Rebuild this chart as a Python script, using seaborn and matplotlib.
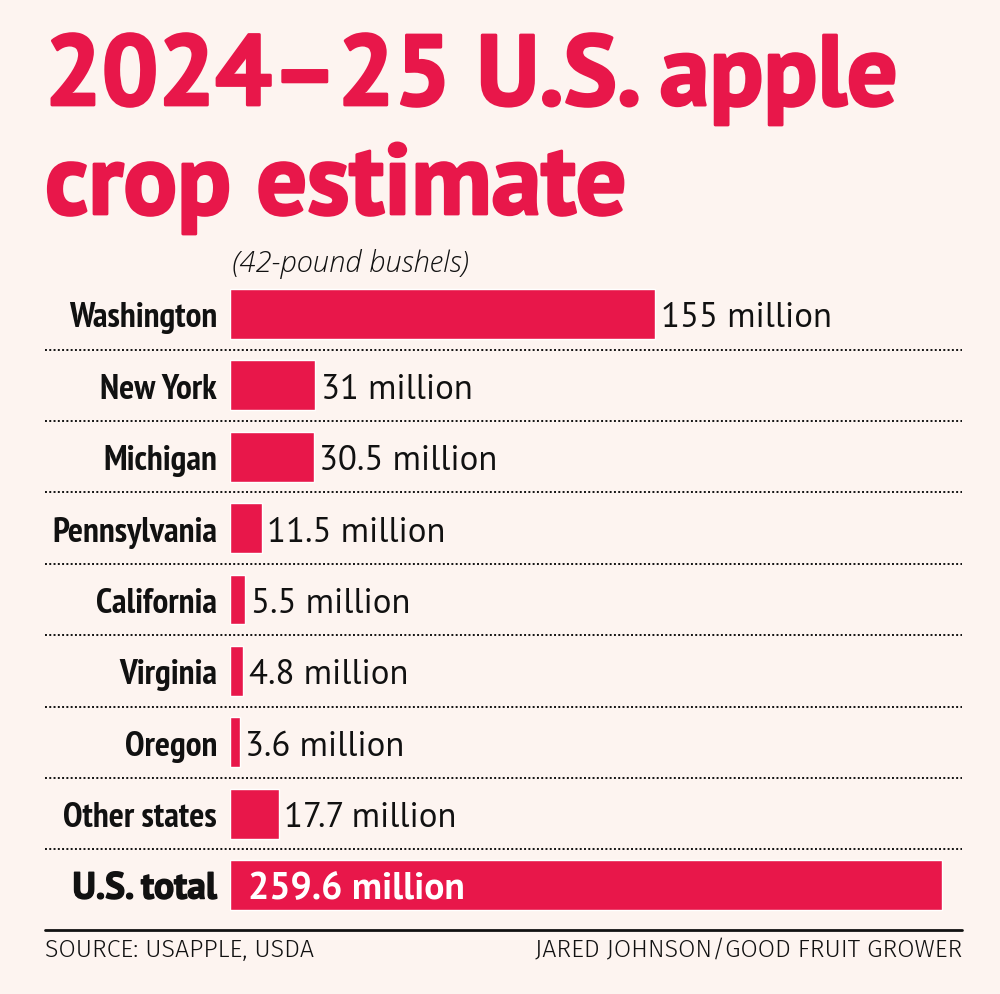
import os
import matplotlib
matplotlib.use("Agg")
import matplotlib.pyplot as plt
import matplotlib.patheffects as pe
import seaborn as sns
import pandas as pd
from matplotlib.lines import Line2D
from matplotlib import font_manager as fm

# ---- data ----
states = ["Washington", "New York", "Michigan", "Pennsylvania", "California",
          "Virginia", "Oregon", "Other states", "U.S. total"]
values = [155, 31, 30.5, 11.5, 5.5, 4.8, 3.6, 17.7, 259.6]
value_labels = ["155 million", "31 million", "30.5 million", "11.5 million",
                "5.5 million", "4.8 million", "3.6 million", "17.7 million",
                "259.6 million"]
title_lines = ["2024\u201325 U.S. apple", "crop estimate"]
unit_note = "(42-pound bushels)"
source = "SOURCE: USAPPLE, USDA"
credit = "JARED JOHNSON/GOOD FRUIT GROWER"

BG = "#FDF4F0"
RED = "#E8174A"
INK = "#111111"

sns.set_theme(style="white")
plt.rcParams["font.family"] = ["Open Sans", "DejaVu Sans"]

_paths = {os.path.basename(f.fname): f.fname for f in fm.fontManager.ttflist}


def font(fname, size, fallback_family="DejaVu Sans", **kw):
    p = _paths.get(fname)
    if p:
        return fm.FontProperties(fname=p, size=size)
    return fm.FontProperties(family=fallback_family, size=size, **kw)


F_TITLE = font("PT_Sans-Web-Bold.ttf", 72, weight="bold")
F_STATE = font("PT_Sans-Narrow-Web-Bold.ttf", 25.5, weight="bold")
F_TOTAL_LAB = font("PT_Sans-Web-Bold.ttf", 27, weight="bold")
F_TOTAL_VAL = font("PT_Sans-Web-Bold.ttf", 27, weight="bold")
F_VALUE = font("PT_Sans-Web-Regular.ttf", 25)
F_NOTE = font("OpenSans-LightItalic.ttf", 21, style="italic")
F_FOOT = font("FiraSans-Light.ttf", 18)

W, H = 1000, 995
fig = plt.figure(figsize=(10, 9.95), dpi=100, facecolor=BG)


def fx(px):
    return px / W


def fy(py):
    return 1 - py / H


row = 71.4
top = 315 - row / 2
bottom = 886 + row / 2
ax = fig.add_axes([fx(230), fy(bottom), fx(962) - fx(230), (bottom - top) / H])
ax.set_facecolor(BG)

df = pd.DataFrame({"state": states, "value": values})
sns.barplot(data=df, y="state", x="value", orient="h", color=RED,
            saturation=1, width=0.70, ax=ax)
ax.set_xlim(0, 732 / 2.742)
ax.set_ylim(len(states) - 0.5, -0.5)
for s in ax.spines.values():
    s.set_visible(False)
ax.set_xticks([])
ax.set_yticks([])
ax.set_xlabel("")
ax.set_ylabel("")

ytr = ax.get_yaxis_transform()
lab_x = (217 - 230) / 732
last = len(states) - 1
for i, st in enumerate(states):
    if i == last:
        ax.text(lab_x, i, st, transform=ytr, ha="right", va="center_baseline",
                fontproperties=F_TOTAL_LAB, color=INK,
                path_effects=[pe.withStroke(linewidth=1.0, foreground=INK)])
    else:
        ax.text(lab_x, i, st, transform=ytr, ha="right", va="center_baseline",
                fontproperties=F_STATE, color=INK)

for i, (v, lbl) in enumerate(zip(values, value_labels)):
    if i < last:
        ax.annotate(lbl, xy=(v, i), xytext=(4, 0), textcoords="offset points",
                    ha="left", va="center_baseline", fontproperties=F_VALUE,
                    color=INK)
    else:
        ax.annotate(lbl, xy=(0, i), xytext=(13, 0), textcoords="offset points",
                    ha="left", va="center_baseline", fontproperties=F_TOTAL_VAL,
                    color="white")

# dotted separators
left_ax = (45 - 230) / 732
for i in range(last):
    ax.plot([left_ax, 1.0], [i + 0.5, i + 0.5], transform=ytr, clip_on=False,
            color=INK, lw=1.4, linestyle=(0, (1, 1.2)))

# bottom solid rule
fig.add_artist(Line2D([fx(45), fx(962)], [fy(931), fy(931)], color=INK, lw=2))

# titles
stroke = [pe.withStroke(linewidth=2.0, foreground=RED)]
fig.text(fx(45), fy(106), title_lines[0], fontproperties=F_TITLE,
         color=RED, va="baseline", ha="left", path_effects=stroke)
fig.text(fx(45), fy(215), title_lines[1], fontproperties=F_TITLE,
         color=RED, va="baseline", ha="left", path_effects=stroke)
fig.text(fx(232), fy(272), unit_note, fontproperties=F_NOTE, color=INK,
         va="baseline", ha="left")

fig.text(fx(45), fy(957), source, fontproperties=F_FOOT, color=INK,
         va="baseline", ha="left")
fig.text(fx(962), fy(957), credit, fontproperties=F_FOOT, color=INK,
         va="baseline", ha="right")

fig.savefig("out.png", dpi=100, facecolor=BG)
